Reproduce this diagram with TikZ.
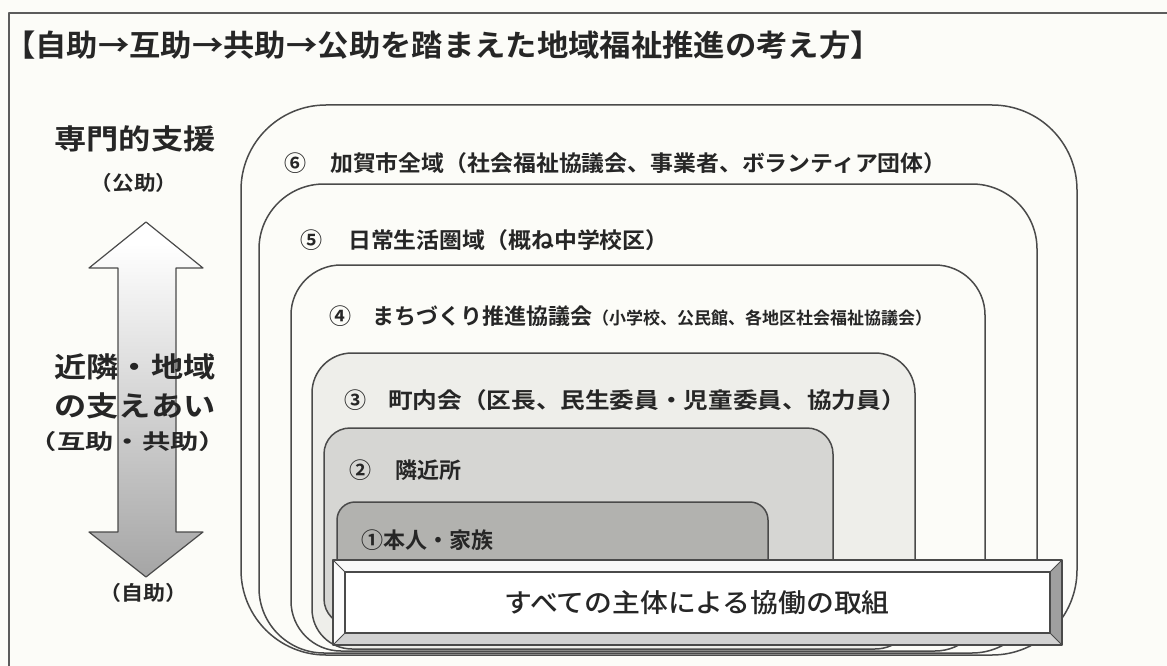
\documentclass[tikz,border=0pt]{standalone}
\usepackage{graphicx}
\usepackage{fontspec}
\setmainfont{Noto Sans CJK JP}
\IfFontExistsTF{Noto Sans CJK JP Bold}
  {\newfontfamily\jpb{Noto Sans CJK JP Bold}}
  {\newfontfamily\jpb{Noto Sans CJK JP}[FakeBold=4]}
\IfFontExistsTF{Noto Sans CJK JP Medium}
  {\newfontfamily\jpm{Noto Sans CJK JP Medium}}
  {\newfontfamily\jpm{Noto Sans CJK JP}[FakeBold=2]}
\definecolor{bg}{HTML}{FCFCF8}
\definecolor{ln}{HTML}{4A4A4A}
\definecolor{tx}{HTML}{262626}
\definecolor{fthree}{HTML}{EEEEEA}
\definecolor{ftwo}{HTML}{D6D6D3}
\definecolor{fone}{HTML}{B2B2AF}
\definecolor{ag}{HTML}{7A7A7A}
\definecolor{am}{HTML}{8E8E8E}
\pgfdeclareverticalshading{arrshade}{100bp}{color(0bp)=(ag);color(13bp)=(am);color(72bp)=(white);color(100bp)=(white)}
\tikzset{
  frameline/.style={draw=ln!90, line width=1.6pt},
  ringbox/.style={draw=ln, line width=1.5pt},
  lbl/.style={anchor=west, inner sep=0pt, text=tx, font=\jpb\fontsize{22}{24}\selectfont},
  side/.style={anchor=center, inner sep=0pt, text=tx, font=\jpb\fontsize{28}{30}\selectfont},
  sidesmall/.style={anchor=center, inner sep=0pt, text=tx, font=\jpb\fontsize{20}{22}\selectfont},
  bevel/.style={draw=ln, line width=1.3pt},
}
\begin{document}
\begin{tikzpicture}[x=1pt,y=-1pt,line join=round]
\useasboundingbox (0,0) rectangle (1167,666);
\clip (0,0) rectangle (1167,666);
\fill[bg] (0,0) rectangle (1167,666);
\draw[frameline] (9,13) rectangle (1190,700);

% title
\node[anchor=west, inner sep=0pt, text=tx, font=\jpb\fontsize{30}{32}\selectfont] (title) at (4,45)
  {\scalebox{1.045}[1]{【自助→互助→共助→公助を踏まえた地域福祉推進の考え方】}};

% nested areas
\draw[ringbox, fill=bg, rounded corners=85] (241,105) rectangle (1077,655);
\draw[ringbox, fill=bg, rounded corners=65] (259,184) rectangle (1037,653);
\draw[ringbox, fill=bg, rounded corners=50] (291,265) rectangle (985,651);
\draw[ringbox, fill=fthree, rounded corners=40] (312,353) rectangle (915,649);
\draw[ringbox, fill=ftwo, rounded corners=26] (324,428) rectangle (833,625);
\draw[ringbox, fill=fone, rounded corners=18] (337,502) rectangle (768,610);

% labels
\node[lbl] (n6) at (284,163) {⑥};
\node[lbl] (t6) at (330,163) {\scalebox{1.04}[1]{加賀市全域（社会福祉協議会、事業者、ボランティア団体）}};
\node[lbl] (n5) at (300,240) {⑤};
\node[lbl] (t5) at (348,240) {\scalebox{1.04}[1]{日常生活圏域（概ね中学校区）}};
\node[lbl] (n4) at (329,316) {④};
\node[lbl] (t4) at (372,316) {まちづくり推進協議会{\fontsize{17}{18}\selectfont（小学校、公民館、各地区社会福祉協議会）}};
\node[lbl] (n3) at (344,400) {③};
\node[lbl] (t3) at (388,400) {\scalebox{1.12}[1]{町内会（区長、民生委員・児童委員、協力員）}};
\node[lbl] (n2) at (349,470) {②};
\node[lbl] (t2) at (395,470) {隣近所};
\node[lbl] (t1) at (361,540) {①本人・家族};

% banner
\coordinate (oTL) at (333,560); \coordinate (oTR) at (1062,560);
\coordinate (oBL) at (333,645); \coordinate (oBR) at (1062,645);
\coordinate (iTL) at (345,572); \coordinate (iTR) at (1050,572);
\coordinate (iBL) at (345,633); \coordinate (iBR) at (1050,633);
\fill[white!95!gray] (oTL) -- (oTR) -- (iTR) -- (iTL) -- cycle;
\fill[white!97!gray] (oTL) -- (iTL) -- (iBL) -- (oBL) -- cycle;
\fill[gray!75] (oTR) -- (oBR) -- (iBR) -- (iTR) -- cycle;
\fill[gray!35] (oBL) -- (iBL) -- (iBR) -- (oBR) -- cycle;
\draw[bevel, fill=white] (iTL) rectangle (iBR);
\draw[bevel] (oTL) rectangle (oBR);
\draw[ln, line width=1pt] (oTL) -- (iTL) (oTR) -- (iTR) (oBL) -- (iBL) (oBR) -- (iBR);
\node[anchor=center, inner sep=0pt, text=tx, font=\jpm\fontsize{26}{28}\selectfont] (banner) at (697,603)
  {\scalebox{1.07}[1]{すべての主体による協働の取組}};

% left column
\shade[shading=arrshade, draw=ln, line width=1.2pt]
  (146,222) -- (89,268) -- (118,268) -- (118,532) -- (89,532) -- (146,577)
  -- (203,532) -- (176,532) -- (176,268) -- (203,268) -- cycle;
\node[side] (s1) at (135,139) {\scalebox{1.15}[1]{専門的支援}};
\node[sidesmall] (s2) at (134,183) {\scalebox{1.08}[1]{（公助）}};
\node[side] (s3) at (135,367) {\scalebox{1.15}[1]{近隣・地域}};
\node[side] (s4) at (135,406) {\scalebox{1.15}[1]{の支えあい}};
\node[sidesmall, font=\jpb\fontsize{21}{22}\selectfont] (s5) at (128,442) {\scalebox{1.35}[1]{（互助・共助）}};
\node[sidesmall] (s6) at (143,593) {\scalebox{1.1}[1]{（自助）}};
\end{tikzpicture}
\end{document}
